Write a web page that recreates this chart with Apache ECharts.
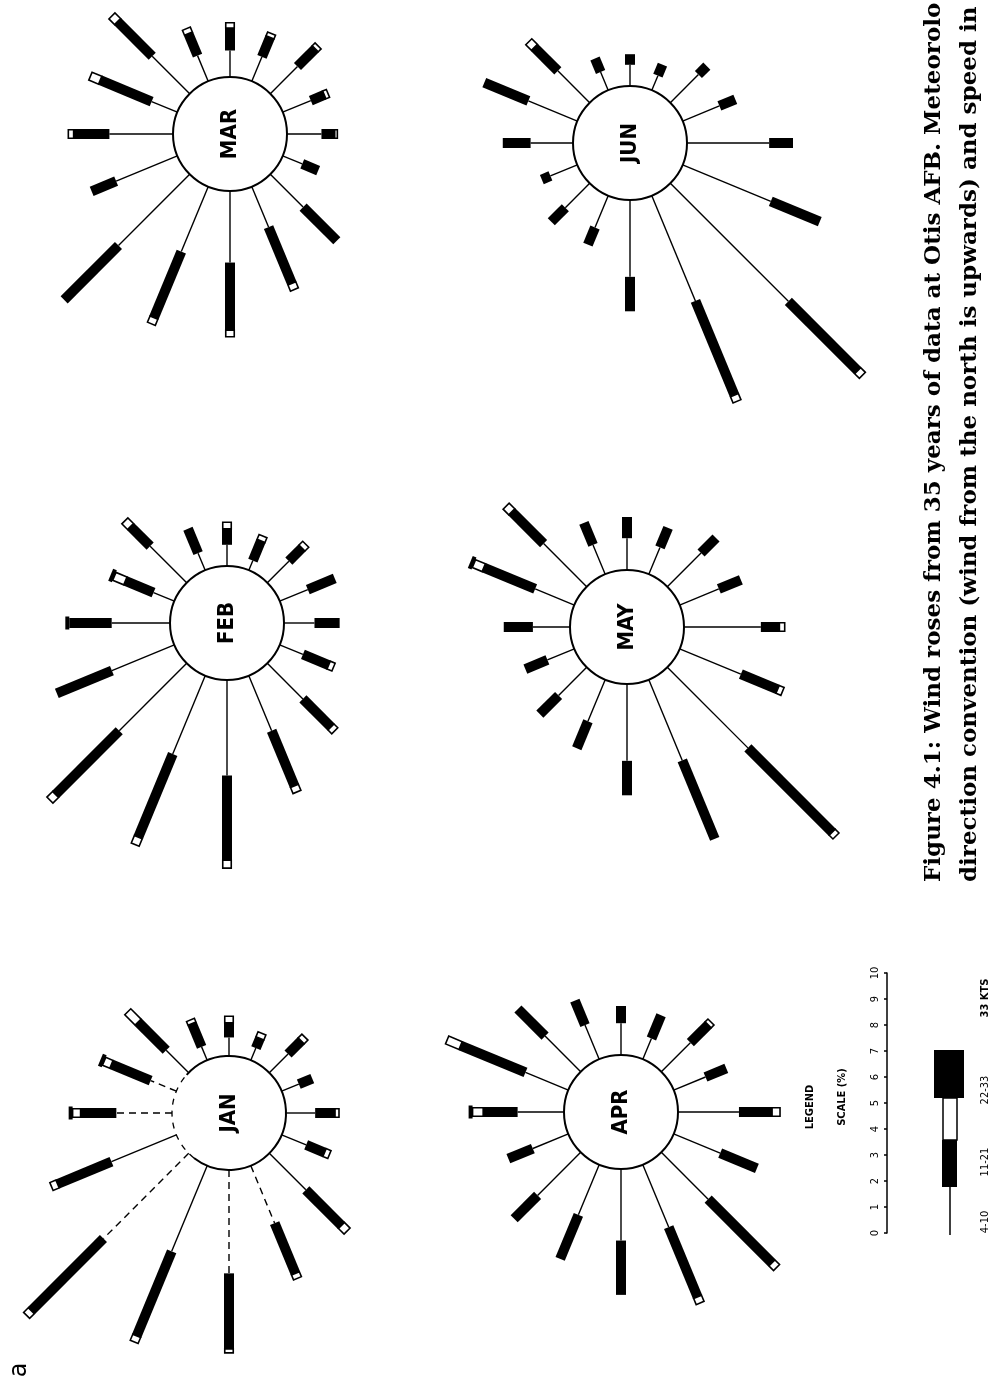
<!DOCTYPE html>
<html><head><meta charset="utf-8">
<script src="https://cdn.jsdelivr.net/npm/echarts@6/dist/echarts.min.js"></script>
<style>html,body{margin:0;padding:0;background:#fff}#c{width:995px;height:1388px}</style>
</head><body><div id="c"></div>
<script>
// ---- data (percent frequency per direction, by speed class) ----
const directions = ['N','NNE','NE','ENE','E','ESE','SE','SSE','S','SSW','SW','WSW','W','WNW','NW','NNW'];
const months = ['JAN','FEB','MAR','APR','MAY','JUN'];
const speedClasses = ['4-10','11-21','22-33','33 KTS'];
const scaleTicks = [0,1,2,3,4,5,6,7,8,9,10];

const jan4_10  = [2.1,1.05,1.2,0.55,0.7,0.5,1.0,0.7,1.1,1.0,1.95,2.35,3.9,3.5,4.55,2.65];
const jan11_21 = [1.35,1.6,1.5,0.95,0.55,0.4,0.7,0.55,0.75,0.75,1.9,2.05,2.85,3.45,3.85,2.2];
const jan22_33 = [0.3,0.3,0.55,0.15,0.25,0.2,0.2,0,0.15,0.2,0.3,0.2,0.15,0.25,0.25,0.25];
const janGt33  = [0.15,0.15,0,0,0,0,0,0,0,0,0,0,0,0,0,0];

const feb4_10  = [2.2,0.85,1.95,0.7,0.8,0.4,1.15,1.15,1.15,0.95,1.9,2.25,3.6,3.2,3.6,2.55];
const feb11_21 = [1.6,1.15,1.05,1.0,0.6,0.8,0.7,1.1,0.95,1.05,1.5,2.25,3.2,3.4,3.4,2.25];
const feb22_33 = [0,0.45,0.3,0,0.25,0.2,0.2,0,0,0.2,0.2,0.25,0.3,0.3,0.3,0];
const febGt33  = [0.15,0.15,0,0,0,0,0,0,0,0,0,0,0,0,0,0];

const mar4_10  = [2.4,1.05,2.0,1.05,1.0,1.0,1.45,1.15,1.3,0.8,1.75,1.65,2.7,2.65,3.8,2.5];
const mar11_21 = [1.35,2.1,1.85,0.9,0.85,0.8,0.95,0.55,0.5,0.65,1.8,2.3,2.55,2.7,2.9,1.0];
const mar22_33 = [0.2,0.4,0.3,0.2,0.2,0.15,0.15,0.15,0.1,0,0,0.25,0.25,0.25,0,0];
const marGt33  = [0,0,0,0,0,0,0,0,0,0,0,0,0,0,0,0];

const apr4_10  = [1.75,1.75,1.9,1.4,1.2,0.85,1.55,1.3,2.3,1.9,2.5,2.55,2.7,2.05,2.3,1.45];
const apr11_21 = [1.3,2.65,1.45,1.0,0.65,0.95,0.95,0.85,1.25,1.5,3.4,2.85,2.05,1.8,1.25,1.0];
const apr22_33 = [0.4,0.55,0,0,0,0,0.15,0,0.3,0,0.25,0.25,0,0,0,0];
const aprGt33  = [0.15,0,0,0,0,0,0,0,0,0,0,0,0,0,0,0];

const may4_10  = [1.4,1.6,2.3,1.2,1.2,1.1,1.8,1.6,2.9,2.5,4.3,3.3,2.9,1.7,1.5,1.1];
const may11_21 = [1.1,2.1,1.7,0.9,0.8,0.8,0.8,0.9,0.7,1.5,4.5,3.2,1.3,1.1,1.0,0.9];
const may22_33 = [0,0.4,0.3,0,0,0,0,0,0.2,0.2,0.2,0,0,0,0,0];
const mayGt33  = [0,0.15,0,0,0,0,0,0,0,0,0,0,0,0,0,0];

const jun4_10  = [1.6,2.0,1.7,0.75,0.8,0.6,1.5,1.5,3.1,3.6,6.3,4.3,2.9,1.3,1.3,1.1];
const jun11_21 = [1.05,1.8,1.25,0.55,0.4,0.45,0.45,0.65,0.9,2.0,3.7,3.85,1.3,0.7,0.75,0.35];
const jun22_33 = [0,0,0.3,0,0,0,0,0,0,0,0.25,0.25,0,0,0,0];
const junGt33  = [0,0,0,0,0,0,0,0,0,0,0,0,0,0,0,0];

// ---- layout / style ----
const monthData = {
  JAN:[jan4_10,jan11_21,jan22_33,janGt33], FEB:[feb4_10,feb11_21,feb22_33,febGt33],
  MAR:[mar4_10,mar11_21,mar22_33,marGt33], APR:[apr4_10,apr11_21,apr22_33,aprGt33],
  MAY:[may4_10,may11_21,may22_33,mayGt33], JUN:[jun4_10,jun11_21,jun22_33,junGt33]
};
const roseCenter = {JAN:[229,1113],FEB:[227,623],MAR:[230,134],APR:[621,1112],MAY:[627,627],JUN:[630,143]};
const dashedSpokes = {JAN:[0,1,11,12,14]};
const dashedArcDeg = {JAN:[128,222]};
const PX_PER_PCT = 26.5;
const RING_PCT = 57 / PX_PER_PCT;
const MAX_PCT = 12;

function band(a, b, w) {
  const dx = b[0]-a[0], dy = b[1]-a[1];
  const L = Math.hypot(dx, dy) || 1;
  const nx = -dy / L * w / 2, ny = dx / L * w / 2;
  return [[a[0]+nx,a[1]+ny],[b[0]+nx,b[1]+ny],[b[0]-nx,b[1]-ny],[a[0]-nx,a[1]-ny]];
}

const polar = [], angleAxis = [], radiusAxis = [], series = [];
months.forEach((m, k) => {
  polar.push({center: roseCenter[m], radius: (MAX_PCT + RING_PCT) * PX_PER_PCT});
  angleAxis.push({polarIndex:k, type:'value', min:0, max:360, startAngle:180, clockwise:true,
    axisLine:{show:false}, axisTick:{show:false}, axisLabel:{show:false}, splitLine:{show:false}});
  radiusAxis.push({polarIndex:k, type:'value', min:-RING_PCT, max:MAX_PCT,
    axisLine:{show:false}, axisTick:{show:false}, axisLabel:{show:false}, splitLine:{show:false}});
  const arr = monthData[m];
  const dashed = dashedSpokes[m] || [];
  const darc = dashedArcDeg[m];
  series.push({
    type:'custom', coordinateSystem:'polar', polarIndex:k, name:m+' ring', silent:true,
    data:[[0,0]],
    renderItem(params, api) {
      const c = api.coord([-RING_PCT, 0]);
      const e = api.coord([0, 0]);
      const r = Math.hypot(e[0]-c[0], e[1]-c[1]);
      const ch = [];
      if (darc) {
        const d2r = Math.PI / 180;
        ch.push({type:'circle', shape:{cx:c[0], cy:c[1], r:r}, style:{fill:'#fff'}});
        ch.push({type:'arc', shape:{cx:c[0], cy:c[1], r:r, startAngle:darc[1]*d2r, endAngle:(darc[0]+360)*d2r, clockwise:true},
          style:{fill:null, stroke:'#000', lineWidth:2}});
        ch.push({type:'arc', shape:{cx:c[0], cy:c[1], r:r, startAngle:darc[0]*d2r, endAngle:darc[1]*d2r, clockwise:true},
          style:{fill:null, stroke:'#000', lineWidth:1.3, lineDash:[6,6]}});
      } else {
        ch.push({type:'circle', shape:{cx:c[0], cy:c[1], r:r}, style:{fill:'#fff', stroke:'#000', lineWidth:2}});
      }
      ch.push({type:'text', x:c[0], y:c[1], rotation:Math.PI/2,
          style:{text:m, fill:'#000', font:'bold 22px "DejaVu Sans Condensed", "DejaVu Sans"', align:'center', verticalAlign:'middle'}});
      return {type:'group', children:ch};
    }
  });
  series.push({
    type:'custom', coordinateSystem:'polar', polarIndex:k, name:m, silent:true,
    data: directions.map((d, i) => [i, arr[0][i], arr[1][i], arr[2][i], arr[3][i]]),
    renderItem(params, api) {
      const i = api.value(0), ang = i * 22.5;
      const l = api.value(1), b = api.value(2), w = api.value(3), g = api.value(4);
      const p0 = api.coord([0, ang]), p1 = api.coord([l, ang]);
      const p2 = api.coord([l+b, ang]), p3 = api.coord([l+b+w, ang]), p4 = api.coord([l+b+w+g, ang]);
      const ch = [];
      if (l > 0) ch.push({type:'line', shape:{x1:p0[0],y1:p0[1],x2:p1[0],y2:p1[1]},
        style:{stroke:'#000', lineWidth:1.4, lineDash: dashed.indexOf(i) >= 0 ? [7,5] : null}});
      if (b > 0) ch.push({type:'polygon', shape:{points:band(p1,p2,10)}, style:{fill:'#000'}});
      if (w > 0) ch.push({type:'polygon', shape:{points:band(p2,p3,8.5)}, style:{fill:'#fff', stroke:'#000', lineWidth:1.6}});
      if (g > 0) ch.push({type:'polygon', shape:{points:band(p3,p4,13)}, style:{fill:'#000'}});
      return {type:'group', children:ch};
    }
  });
});

// legend key + captions
const sansC = '"DejaVu Sans Condensed", "DejaVu Sans"';
const capFont = 'bold 23px "DejaVu Serif"';
const graphic = [
  {type:'text', x:810, y:1107, rotation:Math.PI/2, style:{text:'LEGEND', fill:'#000', font:'bold 11px '+sansC, align:'center', verticalAlign:'middle'}},
  {type:'text', x:842, y:1097, rotation:Math.PI/2, style:{text:'SCALE (%)', fill:'#000', font:'bold 11px '+sansC, align:'center', verticalAlign:'middle'}},
  {type:'line', shape:{x1:950, y1:1235, x2:950, y2:1187}, style:{stroke:'#000', lineWidth:1.5}},
  {type:'rect', shape:{x:942, y:1140, width:15, height:47}, style:{fill:'#000'}},
  {type:'rect', shape:{x:943, y:1098, width:14, height:42}, style:{fill:'#fff', stroke:'#000', lineWidth:1.5}},
  {type:'rect', shape:{x:934, y:1050, width:30, height:48}, style:{fill:'#000'}},
  {type:'text', x:985, y:1222, rotation:Math.PI/2, style:{text:speedClasses[0], fill:'#000', font:'11px '+sansC, align:'center', verticalAlign:'middle'}},
  {type:'text', x:985, y:1162, rotation:Math.PI/2, style:{text:speedClasses[1], fill:'#000', font:'11px '+sansC, align:'center', verticalAlign:'middle'}},
  {type:'text', x:985, y:1090, rotation:Math.PI/2, style:{text:speedClasses[2], fill:'#000', font:'11px '+sansC, align:'center', verticalAlign:'middle'}},
  {type:'text', x:985, y:998, rotation:Math.PI/2, style:{text:speedClasses[3], fill:'#000', font:'bold 11px '+sansC, align:'center', verticalAlign:'middle'}},
  {type:'text', x:934, y:882, rotation:Math.PI/2, style:{text:'Figure 4.1: Wind roses from 35 years of data at Otis AFB. Meteorolo', fill:'#000', font:capFont, align:'left', verticalAlign:'middle'}},
  {type:'text', x:970, y:882, rotation:Math.PI/2, style:{text:'direction convention (wind from the north is upwards) and speed in k', fill:'#000', font:capFont, align:'left', verticalAlign:'middle'}},
  {type:'text', x:20, y:1370, rotation:Math.PI/2, style:{text:'a', fill:'#000', font:'24px "DejaVu Sans"', align:'center', verticalAlign:'middle'}}
];

const option = {
  animation:false,
  backgroundColor:'#fff',
  polar, angleAxis, radiusAxis,
  grid:{left:887, top:973, width:1, height:260},
  xAxis:{type:'value', show:false},
  yAxis:{type:'value', min:0, max:10, interval:1, position:'left',
    axisLine:{show:true, lineStyle:{color:'#000', width:1.5}},
    axisTick:{show:true, length:3, lineStyle:{color:'#000', width:1.5}},
    axisLabel:{show:true, rotate:90, margin:6, color:'#000', fontSize:11, fontFamily:'DejaVu Sans Condensed',
      formatter: v => String(scaleTicks[v])},
    splitLine:{show:false}},
  series,
  graphic
};
const chart = echarts.init(document.getElementById('c'), null, {renderer:'canvas'});
chart.setOption(option);
</script></body></html>
